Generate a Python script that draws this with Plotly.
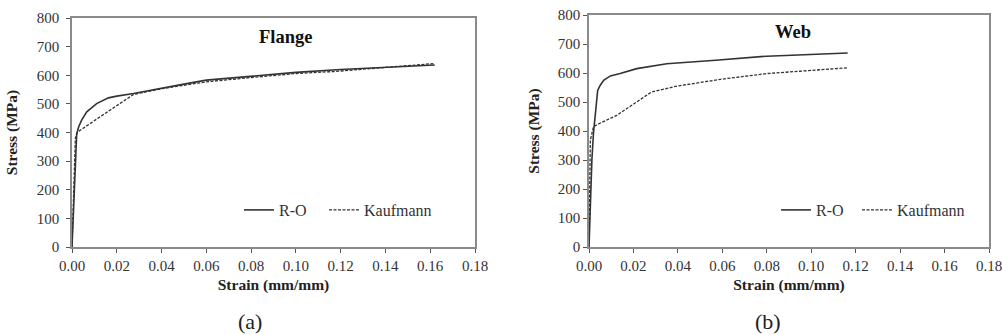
import plotly.graph_objects as go

# Flange data
fl_ro_x = [0.0, 0.0008, 0.0016, 0.0021, 0.003, 0.0043, 0.0066, 0.011, 0.0163, 0.02, 0.0275, 0.039, 0.05, 0.06, 0.08, 0.10, 0.12, 0.139, 0.162]
fl_ro_y = [0, 150, 320, 396, 420, 443, 472, 501, 521, 527, 536, 554, 569, 583, 597, 610, 620, 628, 636]
fl_k_x = [0.0, 0.0008, 0.0015, 0.0025, 0.0275, 0.04, 0.06, 0.08, 0.10, 0.117, 0.14, 0.162]
fl_k_y = [0, 230, 380, 402, 533, 553, 577, 592, 606, 613, 628, 641]

# Web data
wb_ro_x = [0.0, 0.0006, 0.0013, 0.002, 0.0033, 0.0039, 0.005, 0.0066, 0.0096, 0.014, 0.0215, 0.035, 0.057, 0.08, 0.1164]
wb_ro_y = [0, 161, 300, 391, 506, 540, 557, 575, 590, 598, 615, 632, 644, 658, 669]
wb_k_x = [0.0, 0.0006, 0.002, 0.0036, 0.0125, 0.02, 0.028, 0.039, 0.059, 0.08, 0.1164]
wb_k_y = [0, 368, 414, 422, 454, 494, 534, 554, 578, 598, 618]

x_ticks = [0.00, 0.02, 0.04, 0.06, 0.08, 0.10, 0.12, 0.14, 0.16, 0.18]
x_tick_labels = ["0.00", "0.02", "0.04", "0.06", "0.08", "0.10", "0.12", "0.14", "0.16", "0.18"]
y_ticks = [0, 100, 200, 300, 400, 500, 600, 700, 800]

series_names = ["R-O", "Kaufmann"]
panel_titles = ["Flange", "Web"]
panel_labels = ["(a)", "(b)"]

FONT = "Liberation Serif"
LC = "#333333"

W, H = 1003, 335
def px(v): return v / W
def py(v): return 1 - v / H

fig = go.Figure()
fig.add_trace(go.Scatter(x=fl_ro_x, y=fl_ro_y, mode="lines", name=series_names[0],
                         line=dict(color=LC, width=1.6), xaxis="x", yaxis="y", legend="legend"))
fig.add_trace(go.Scatter(x=fl_k_x, y=fl_k_y, mode="lines", name=series_names[1],
                         line=dict(color=LC, width=1.3, dash="3px,1.5px"), xaxis="x", yaxis="y", legend="legend2"))
fig.add_trace(go.Scatter(x=wb_ro_x, y=wb_ro_y, mode="lines", name=series_names[0],
                         line=dict(color=LC, width=1.6), xaxis="x2", yaxis="y2", legend="legend3"))
fig.add_trace(go.Scatter(x=wb_k_x, y=wb_k_y, mode="lines", name=series_names[1],
                         line=dict(color=LC, width=1.3, dash="3px,1.5px"), xaxis="x2", yaxis="y2", legend="legend4"))

tickfont = dict(family=FONT, size=15, color="#333333")
titlefont = dict(family=FONT, size=15.5, color="#222222")
axis_common = dict(showgrid=False, zeroline=False, showline=True, linecolor="#8a8a8a", linewidth=1.5,
                   mirror=True, ticks="outside", ticklen=4, tickcolor="#555555", automargin=False,
                   tickfont=tickfont, ticklabeloverflow="allow")
xax = dict(axis_common, range=[0, 0.18], tickvals=x_ticks, ticktext=x_tick_labels,
           title=dict(text="<b>Strain (mm/mm)</b>", font=titlefont, standoff=6))
yax = dict(axis_common, range=[0, 800], tickvals=y_ticks,
           title=dict(text="<b>Stress (MPa)</b>", font=titlefont))

leg_common = dict(orientation="h", font=dict(family=FONT, size=16, color="#333333"),
                  bgcolor="rgba(0,0,0,0)", xanchor="left", yanchor="middle",
                  itemwidth=30, tracegroupgap=0)

fig.update_layout(
    width=W, height=H,
    font=dict(family=FONT),
    showlegend=True,
    margin=dict(l=0, r=0, t=0, b=0),
    paper_bgcolor="white", plot_bgcolor="white",
    xaxis=dict(xax, domain=[px(72), px(475)], anchor="y"),
    yaxis=dict(yax, domain=[py(247), py(18)], anchor="x", ticklabelstandoff=4,
               title=dict(yax["title"], standoff=15)),
    xaxis2=dict(xax, domain=[px(589), px(989)], anchor="y2"),
    yaxis2=dict(yax, domain=[py(247), py(15)], anchor="x2", ticklabelstandoff=0,
                title=dict(yax["title"], standoff=14)),
    legend=dict(leg_common, x=px(239), y=py(210)),
    legend2=dict(leg_common, x=px(324), y=py(210)),
    legend3=dict(leg_common, x=px(776), y=py(210)),
    legend4=dict(leg_common, x=px(857), y=py(210)),
    annotations=[
        dict(text="<b>" + panel_titles[0] + "</b>", x=px(285), y=py(37), xref="paper", yref="paper",
             xanchor="center", yanchor="middle",
             showarrow=False, font=dict(family=FONT, size=18.5, color="#111111")),
        dict(text="<b>" + panel_titles[1] + "</b>", x=px(793), y=py(32), xref="paper", yref="paper",
             xanchor="center", yanchor="middle",
             showarrow=False, font=dict(family=FONT, size=18.5, color="#111111")),
        dict(text=panel_labels[0], x=px(250), y=py(321), xref="paper", yref="paper",
             xanchor="center", yanchor="middle",
             showarrow=False, font=dict(family=FONT, size=22, color="#222222")),
        dict(text=panel_labels[1], x=px(768), y=py(321), xref="paper", yref="paper",
             xanchor="center", yanchor="middle",
             showarrow=False, font=dict(family=FONT, size=22, color="#222222")),
    ],
)

fig.write_html("out.html", config={"displayModeBar": False},
               post_script="document.body.style.margin='0px';")
